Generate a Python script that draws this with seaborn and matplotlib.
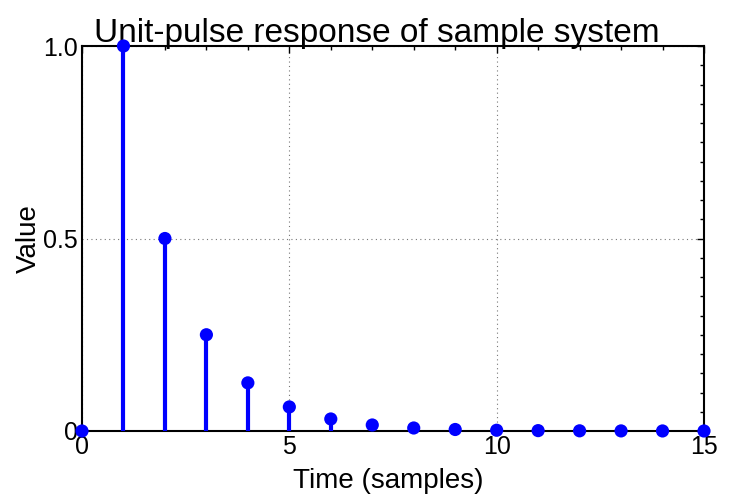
import numpy as np
import pandas as pd
import matplotlib
matplotlib.use("Agg")
import matplotlib.pyplot as plt
import seaborn as sns
from matplotlib.ticker import MultipleLocator, FixedLocator, FixedFormatter

samples = [0, 1, 2, 3, 4, 5, 6, 7, 8, 9, 10, 11, 12, 13, 14, 15]
values = [0, 1.0, 0.5, 0.25, 0.125, 0.0625, 0.03125, 0.015625, 0.0078125,
          0.00390625, 0.001953125, 0.0009765625, 0.00048828125,
          0.000244140625, 0.0001220703125, 0.00006103515625]
xticks = [0, 5, 10, 15]
xticklabels = ["0", "5", "10", "15"]
yticks = [0, 0.5, 1.0]
yticklabels = ["0", "0.5", "1.0"]

df = pd.DataFrame({"Time": samples, "Value": values})

sns.set_style("white")
plt.rcParams['font.family'] = ['Liberation Sans', 'DejaVu Sans']
plt.rcParams['text.color'] = 'black'
plt.rcParams['axes.labelcolor'] = 'black'
plt.rcParams['xtick.color'] = 'black'
plt.rcParams['ytick.color'] = 'black'

fig = plt.figure(figsize=(7.30, 4.99), dpi=100)
ax = fig.add_axes([82/730, 1 - 431/499, (704-82)/730, (431-46)/499])

ax.vlines(df["Time"], 0, df["Value"], color="#0000ff", linewidth=3, zorder=3)
sns.scatterplot(data=df, x="Time", y="Value", ax=ax, color="#0000ff", s=90,
                edgecolor="none", zorder=4, clip_on=False)

ax.set_xlim(0, 15)
ax.set_ylim(0, 1.0)
ax.xaxis.set_major_locator(FixedLocator(xticks))
ax.xaxis.set_major_formatter(FixedFormatter(xticklabels))
ax.yaxis.set_major_locator(FixedLocator(yticks))
ax.yaxis.set_major_formatter(FixedFormatter(yticklabels))
ax.xaxis.set_minor_locator(MultipleLocator(1))
ax.yaxis.set_minor_locator(MultipleLocator(0.05))
ax.tick_params(which="both", direction="in", top=True, right=True, colors="black",
               labelcolor="black", labelsize=18, width=1)
ax.tick_params(which="major", length=5, pad=3)
ax.tick_params(which="minor", length=3)
ax.grid(True, which="major", linestyle=(0, (1, 3)), color="#777777", linewidth=0.8)
for s in ax.spines.values():
    s.set_color("black")
    s.set_linewidth(1.5)

ax.set_title("Unit-pulse response of sample system", fontsize=24, pad=3,
             color="black", x=(377 - 82) / 622)
ax.set_xlabel("Time (samples)", fontsize=20, labelpad=1, color="black")
ax.xaxis.set_label_coords((388 - 82) / 622, -0.096)
ax.set_ylabel("Value", fontsize=20, labelpad=1, color="black")

fig.savefig("out.png", dpi=100)
